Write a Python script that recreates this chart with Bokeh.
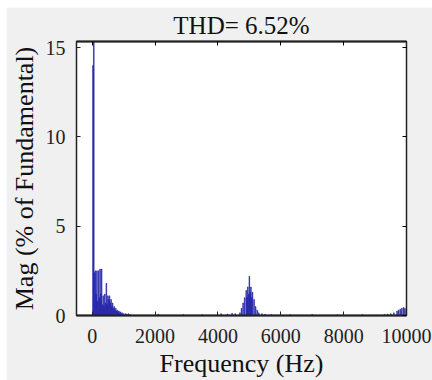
from bokeh.plotting import figure
from bokeh.models import Range1d, FixedTicker, LinearAxis, CustomJSTickFormatter
from bokeh.embed import file_html
from bokeh.resources import INLINE

title_text = "THD= 6.52%"
x_label = "Frequency (Hz)"
y_label = "Mag (% of Fundamental)"
x_ticks = [0, 2000, 4000, 6000, 8000, 10000]
y_ticks = [0, 5, 10, 15]

# low-order region (Hz, % of fundamental)
freq_low = [25, 50, 75, 100, 125, 150, 175, 200, 225, 250, 275, 300, 325, 350, 375,
            400, 425, 450, 475, 500, 525, 550, 575, 600, 625, 650, 675, 700, 725,
            750, 775, 800, 825, 850, 875, 900, 925, 950, 1000, 1050, 1100, 1150, 1200]
mag_low = [14.0, 100.0, 2.4, 2.5, 1.2, 2.5, 0.8, 2.5, 1.0, 2.6, 1.2, 2.6, 0.6, 1.1, 0.5,
           1.2, 0.7, 1.8, 0.6, 1.1, 0.9, 1.1, 0.7, 0.9, 0.5, 0.7, 0.4, 0.5, 0.3,
           0.4, 0.25, 0.3, 0.2, 0.25, 0.15, 0.2, 0.1, 0.15, 0.1, 0.1, 0.08, 0.1, 0.05]
# scattered small components
freq_mid = [2100, 2900, 3500, 4100, 4300, 4450, 4550]
mag_mid = [0.08, 0.06, 0.05, 0.1, 0.08, 0.12, 0.1]
# switching-frequency cluster around 5 kHz
freq_sw = [4700, 4750, 4800, 4850, 4900, 4925, 4950, 4975, 5000, 5025, 5050, 5075,
           5100, 5150, 5200, 5250, 5300, 5400, 5500, 5700]
mag_sw = [0.15, 0.4, 0.7, 1.0, 1.4, 1.0, 1.6, 1.2, 2.2, 1.3, 1.6, 1.0,
          1.3, 0.9, 0.5, 0.3, 0.15, 0.1, 0.08, 0.06]
# high-frequency tail near 10 kHz
freq_hi = [6300, 7000, 7800, 8600, 9300, 9400, 9500, 9600, 9700, 9750, 9800, 9850,
           9900, 9950, 10000]
mag_hi = [0.05, 0.06, 0.05, 0.05, 0.06, 0.08, 0.1, 0.15, 0.25, 0.3, 0.35, 0.4,
          0.45, 0.4, 0.35]

freqs = freq_low + freq_mid + freq_sw + freq_hi
mags = mag_low + mag_mid + mag_sw + mag_hi

SERIF = "Liberation Serif"
BG = "#f0f0f0"
BAR = "#2323a8"

p = figure(width=426, height=373, output_backend="svg", toolbar_location=None,
           x_range=Range1d(-500, 10000), y_range=Range1d(0, 15.35),
           min_border_left=0, min_border_right=26, min_border_top=0,
           min_border_bottom=0)
p.margin = (7, 0, 0, 6)
p.background_fill_color = "white"
p.border_fill_color = BG
p.outline_line_color = "#222222"
p.outline_line_width = 1.5
p.xgrid.visible = False
p.ygrid.visible = False

p.title.text = title_text
p.title.align = "center"
p.title.text_font = SERIF
p.title.text_font_size = "25px"
p.title.text_font_style = "normal"
p.title.text_color = "#111111"
p.title.standoff = 5

p.vbar(x=freqs, top=mags, width=22, fill_color=BAR, line_color=BAR, line_width=0.6)

for ax in (p.xaxis[0], p.yaxis[0]):
    ax.major_label_text_font = SERIF
    ax.major_label_text_font_size = "20px"
    ax.major_label_text_color = "#222222"
    ax.major_label_text_line_height = 1.0
    ax.axis_label_text_font = SERIF
    ax.axis_label_text_font_size = "26px"
    ax.axis_label_text_font_style = "normal"
    ax.axis_label_text_color = "#111111"
    ax.axis_label_text_line_height = 0.9
    ax.major_tick_in = 4
    ax.major_tick_out = 0
    ax.minor_tick_in = 0
    ax.minor_tick_out = 0
    ax.axis_line_color = "#222222"
    ax.major_tick_line_color = "#222222"

p.xaxis[0].ticker = FixedTicker(ticks=x_ticks)
p.yaxis[0].ticker = FixedTicker(ticks=y_ticks)
p.xaxis[0].axis_label = x_label
p.yaxis[0].axis_label = y_label
p.xaxis[0].axis_line_width = 2
p.xaxis[0].major_label_standoff = 13
p.yaxis[0].major_label_standoff = 11
p.xaxis[0].axis_label_standoff = 3
p.yaxis[0].axis_label_standoff = 4

top_ax = LinearAxis(ticker=FixedTicker(ticks=x_ticks), formatter=CustomJSTickFormatter(code="return ''"),
                    major_tick_in=4, major_tick_out=0, minor_tick_in=0, minor_tick_out=0,
                    axis_line_width=2, axis_line_color="#222222",
                    major_label_text_font_size="10px", major_label_standoff=0)
right_ax = LinearAxis(ticker=FixedTicker(ticks=y_ticks), formatter=CustomJSTickFormatter(code="return ''"),
                      major_tick_in=4, major_tick_out=0, minor_tick_in=0, minor_tick_out=0,
                      axis_line_color="#222222", major_label_text_font_size="10px",
                      major_label_standoff=0)
p.add_layout(top_ax, "above")
p.add_layout(right_ax, "right")

open("out.html", "w").write(file_html(p, INLINE))
